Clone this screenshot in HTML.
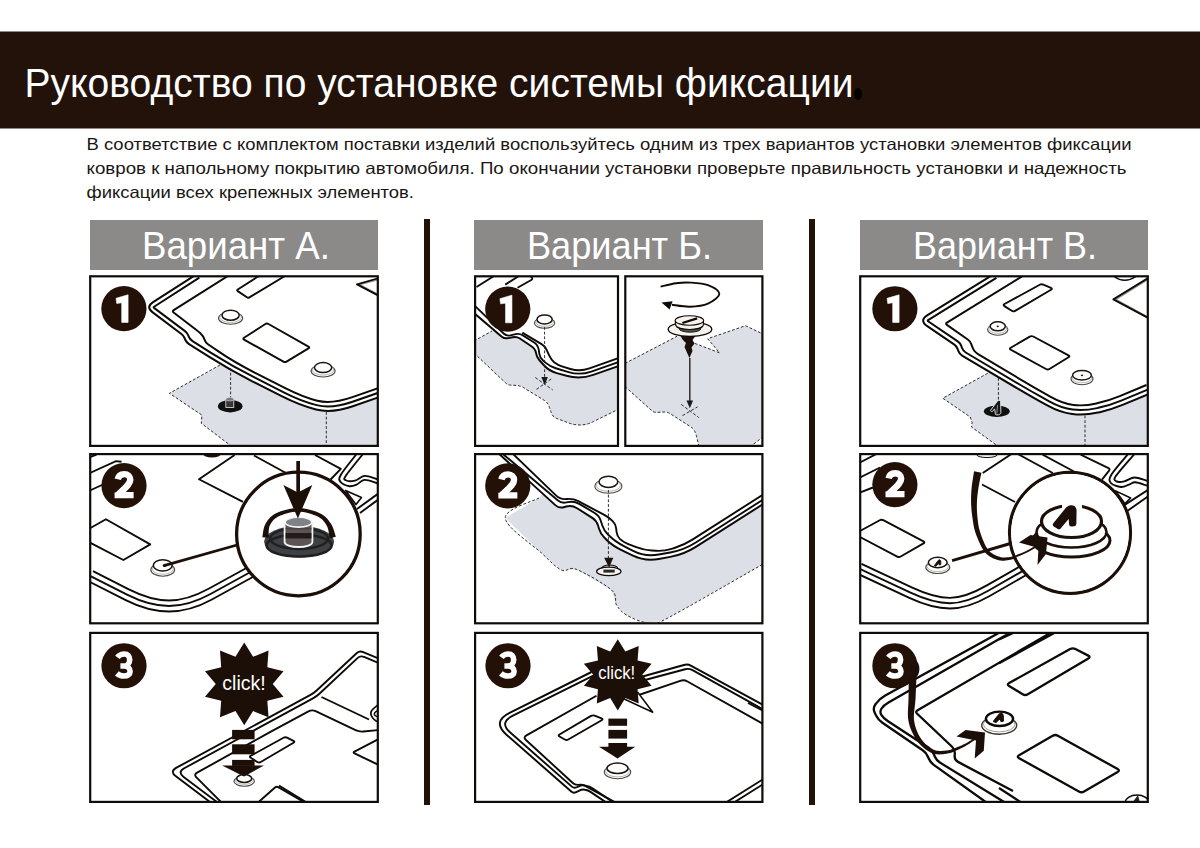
<!DOCTYPE html>
<html><head><meta charset="utf-8">
<style>
html,body{margin:0;padding:0;background:#fff;width:1200px;height:848px;overflow:hidden}
svg{position:absolute;left:0;top:0;display:block}
text{font-family:"Liberation Sans",sans-serif}
</style></head>
<body>
<svg width="1200" height="848" viewBox="0 0 1200 848">
<defs><clipPath id="cA1"><rect x="90.1" y="276.2" width="287.8" height="169.8"/></clipPath><clipPath id="cA2"><rect x="90.1" y="454" width="287.8" height="169.4"/></clipPath><clipPath id="cA3"><rect x="90.1" y="632.8" width="287.8" height="169.2"/></clipPath><clipPath id="cB1a"><rect x="475" y="276.2" width="143" height="169.8"/></clipPath><clipPath id="cB1b"><rect x="625.2" y="276.2" width="137.3" height="169.8"/></clipPath><clipPath id="cB2"><rect x="475" y="454" width="287.5" height="169.4"/></clipPath><clipPath id="cB3"><rect x="475" y="632.8" width="287.5" height="169.2"/></clipPath><clipPath id="cC1"><rect x="860.1" y="276.2" width="287.8" height="169.8"/></clipPath><clipPath id="cC2"><rect x="860.1" y="454" width="287.8" height="169.4"/></clipPath><clipPath id="cC3"><rect x="860.1" y="632.8" width="287.8" height="169.2"/></clipPath></defs>
<rect x="0" y="31.5" width="1200" height="97" fill="#22120a"/>
<text x="24.5" y="97" font-size="40.5" fill="#fff" textLength="829" lengthAdjust="spacingAndGlyphs">Руководство по установке системы фиксации</text>
<ellipse cx="858" cy="94" rx="4" ry="6" fill="#000"/>
<g font-size="16.5" fill="#1a1614">
<text x="86.5" y="150" textLength="1045" lengthAdjust="spacingAndGlyphs">В соответствие с комплектом поставки изделий воспользуйтесь одним из трех вариантов установки элементов фиксации</text>
<text x="86.5" y="174.4" textLength="1040" lengthAdjust="spacingAndGlyphs">ковров к напольному покрытию автомобиля. По окончании установки проверьте правильность установки и надежность</text>
<text x="86.5" y="198.1" textLength="327.5" lengthAdjust="spacingAndGlyphs">фиксации всех крепежных элементов.</text>
</g>
<rect x="424" y="219" width="6" height="586" fill="#211208"/>
<rect x="809" y="219" width="6" height="586" fill="#211208"/>
<g fill="#8b8a88">
<rect x="90" y="220" width="288" height="50"/>
<rect x="474" y="220" width="289" height="50"/>
<rect x="860" y="220" width="288" height="50"/>
</g>
<g font-size="38.5" fill="#fff">
<text x="142" y="258.5" textLength="188" lengthAdjust="spacingAndGlyphs">Вариант А.</text>
<text x="527" y="258.5" textLength="185" lengthAdjust="spacingAndGlyphs">Вариант Б.</text>
<text x="913" y="258.5" textLength="184" lengthAdjust="spacingAndGlyphs">Вариант В.</text>
</g>
<g clip-path="url(#cA1)"><path d="M220 365 L169.4 393.3 L201.9 415.1 L201.3 423.3 L232.5 447 L380 447 L380 380 L300 380Z" fill="#dcdfe6"/><path d="M197 274 L153.08 302.14 Q145.5 307 152.7 312.4 L181.1 333.7 Q183.5 335.5 184.68 338.26 L185.32 339.74 Q186.5 342.5 189.04 344.1 L208.87 356.64 Q230 370 252.3 381.31 L282.16 396.45 Q300 405.5 316 409.5 L316 409.5 Q332 413.5 352.78 406.29 L381 396.5 L381 270 L195 270Z" fill="#fff"/><path d="M220 365 L169.4 393.3 L201.9 415.1 L201.3 423.3 L232.5 447" fill="none" stroke="#222" stroke-width="0.95" stroke-dasharray="2.8 1.9"/><path d="M326.3 412 L326.3 447" fill="none" stroke="#222" stroke-width="0.95" stroke-dasharray="2.8 1.9"/><path d="M197 274 L153.08 302.14 Q145.5 307 152.7 312.4 L181.1 333.7 Q183.5 335.5 184.68 338.26 L185.32 339.74 Q186.5 342.5 189.04 344.1 L208.87 356.64 Q230 370 252.3 381.31 L282.16 396.45 Q300 405.5 316 409.5 L316 409.5 Q332 413.5 352.78 406.29 L381 396.5" fill="none" stroke="#0d0a08" stroke-width="2.03" /><path d="M199.37 277.7 L154.05 306.74 Q153.21 307.28 154.01 307.88 L184.68 330.89 Q187.08 332.69 188.26 335.44 L188.82 336.75 Q190.01 339.51 192.54 341.11 L211.09 352.84 Q232.18 366.17 254.47 377.48 L283.71 392.31 Q301.55 401.35 316.67 405.13 L316.67 405.13 Q331.8 408.91 352.58 401.7 L379.56 392.34" fill="none" stroke="#0d0a08" stroke-width="1.96" /><path d="M231 274 L173.69 310.18 Q172 311.25 173.59 312.46 L196.12 329.68 Q198.5 331.5 200.67 333.57 L201.03 333.93 Q203.2 336 204.2 338.83 L204.5 339.67 Q205.5 342.5 207.97 344.2 L219.93 352.42 Q234.35 362.34 256.65 373.65 L285.26 388.16 Q303.1 397.2 317.34 400.77 L317.34 400.77 Q331.59 404.33 352.38 397.12 L378.12 388.19" fill="none" stroke="#0d0a08" stroke-width="1.96" /><path d="M260.25 276 Q258.75 276 257.49 276.81 L237.76 289.49 Q236.5 290.3 237.74 291.14 L246.86 297.26 Q248.1 298.1 249.39 297.33 L283.71 276.77 Q285 276 283.5 276Z" fill="none" stroke="#0d0a08" stroke-width="1.89" /><path d="M244.07 339.63 Q242.5 338.75 244.02 337.78 L265.38 324.07 Q266.9 323.1 268.47 323.99 L308.43 346.61 Q310 347.5 308.46 348.43 L286.54 361.57 Q285 362.5 283.43 361.62Z" fill="none" stroke="#0d0a08" stroke-width="1.89" /><path d="M379 279.5 L359.8 284.6 L379 294.8" fill="none" stroke="#999" stroke-width="1.2" /><path d="M381 277.5 L357 284.4 L381 297" fill="none" stroke="#0d0a08" stroke-width="1.89" stroke-linejoin="round"/><ellipse cx="230.6" cy="318.3" rx="12.1" ry="6" fill="#fff" stroke="#4b4640" stroke-width="1.1"/><ellipse cx="230.6" cy="317.4" rx="10.8" ry="5" fill="#fff" stroke="#8c8780" stroke-width="0.6"/><ellipse cx="230.6" cy="315.2" rx="8.6" ry="5" fill="#fff" stroke="#1a1410" stroke-width="1.5"/><ellipse cx="323.1" cy="371" rx="12" ry="6" fill="#fff" stroke="#4b4640" stroke-width="1.1"/><ellipse cx="323.1" cy="370.1" rx="10.7" ry="5" fill="#fff" stroke="#8c8780" stroke-width="0.6"/><ellipse cx="323.1" cy="367.6" rx="8.6" ry="5" fill="#fff" stroke="#1a1410" stroke-width="1.5"/><path d="M230.6 368 L230.6 398" fill="none" stroke="#222" stroke-width="0.95" stroke-dasharray="2.8 1.9"/><ellipse cx="230.2" cy="406.2" rx="12.3" ry="6.2" fill="#101010" stroke="none" stroke-width="1"/><rect x="225.8" y="399" width="8" height="8.5" fill="#3a3634" stroke="#e8e8e8" stroke-width="0.8"/><ellipse cx="229.8" cy="399.2" rx="4" ry="1.8" fill="#77797c" stroke="#ddd" stroke-width="0.6"/></g>
<g clip-path="url(#cA2)"><path d="M90 473 L115.9 461.1 L121.5 461.75" fill="none" stroke="#0d0a08" stroke-width="1.89" /><path d="M90 490.5 L103 484.5" fill="none" stroke="#0d0a08" stroke-width="1.89" /><path d="M90 457 L96.5 454.5" fill="none" stroke="#0d0a08" stroke-width="1.89" /><path d="M90 528.3 L105.9 519.25 L150.25 544.4 L123.4 560 L90 542.6" fill="none" stroke="#0d0a08" stroke-width="1.89" stroke-linejoin="round"/><path d="M234.6 455 L199 479.25 L243 501.8" fill="none" stroke="#0d0a08" stroke-width="1.89" stroke-linejoin="round"/><path d="M315 455 L340.8 468.8 L330.6 479.5" fill="none" stroke="#0d0a08" stroke-width="1.89" stroke-linejoin="round"/><path d="M254 455.5 L286 473" fill="none" stroke="#0d0a08" stroke-width="1.89" /><ellipse cx="212" cy="454" rx="9" ry="3.5" fill="#1c0f08" stroke="none" stroke-width="1"/><path d="M357.4 453 C354.67 456.58 343.8 469.67 341 474.5 C338.2 479.33 339.18 480.05 340.6 482 C342.02 483.95 346.83 485.77 349.5 486.2 C352.17 486.63 354.1 485.65 356.6 484.6 C359.1 483.55 361.2 480.17 364.5 479.9 C367.8 479.63 373.65 482.15 376.4 483 C379.15 483.85 380.23 484.67 381 485" fill="none" stroke="#0d0a08" stroke-width="1.89" /><path d="M363.75 453 C360.79 456.75 348.99 470.97 346 475.5 C343.01 480.03 344.3 479.35 345.8 480.2 C347.3 481.05 351.88 481.32 355 480.6 C358.12 479.88 360.93 476.17 364.5 475.9 C368.07 475.63 373.65 478.15 376.4 479 C379.15 479.85 380.23 480.67 381 481" fill="none" stroke="#0d0a08" stroke-width="1.89" /><path d="M345.5 490.5 L361.5 497.4 L356 504.5Z" fill="none" stroke="#0d0a08" stroke-width="1.59" stroke-linejoin="round"/><path d="M379 493 L357 509" fill="none" stroke="#0d0a08" stroke-width="1.89" /><path d="M379 499 L360 513" fill="none" stroke="#0d0a08" stroke-width="1.89" /><path d="M88 581 L125.71 600.17 Q148 611.5 169 611.5 L169 611.5 Q190 611.5 211.92 599.48 L262 572" fill="none" stroke="#0d0a08" stroke-width="1.89" /><path d="M90.49 576.1 L127.03 594.67 Q149.32 606 168.95 606 L168.95 606 Q188.59 606 210.51 593.98 L259.35 567.18" fill="none" stroke="#0d0a08" stroke-width="1.89" /><path d="M92.98 571.19 L128.35 589.17 Q150.64 600.5 168.91 600.5 L168.91 600.5 Q187.18 600.5 209.1 588.48 L256.71 562.36" fill="none" stroke="#0d0a08" stroke-width="1.89" /><ellipse cx="162.75" cy="569.8" rx="11.9" ry="6.4" fill="#fff" stroke="#4b4640" stroke-width="1.1"/><ellipse cx="162.75" cy="568.9" rx="10.6" ry="5.4" fill="#fff" stroke="#8c8780" stroke-width="0.6"/><ellipse cx="162.75" cy="565.4" rx="9.4" ry="5.6" fill="#fff" stroke="#1a1410" stroke-width="1.5"/><path d="M164 565.6 L237 545" fill="none" stroke="#1c0f08" stroke-width="2.8" /><ellipse cx="164.5" cy="565.5" rx="1.8" ry="1.5" fill="#1c0f08" stroke="none" stroke-width="1"/><circle cx="298.4" cy="534" r="61.8" fill="#fff" stroke="#1c0f08" stroke-width="3.3"/><ellipse cx="299.1" cy="541.6" rx="35" ry="15.8" fill="#3e4043" stroke="none" stroke-width="1"/><ellipse cx="299.1" cy="545.5" rx="32.5" ry="11" fill="none" stroke="#1f2022" stroke-width="2.6"/><ellipse cx="299.1" cy="538.5" rx="29" ry="10.5" fill="none" stroke="#1f2022" stroke-width="2.4"/><path d="M268.73 537.84 L268.72 536.77 L268.69 535.37 L268.66 533.81 L268.67 532.14 L268.74 530.43 L268.91 528.78 L269.17 527.29 L269.58 525.98 L270.21 524.71 L270.93 523.4 L271.73 522.14 L272.64 520.93 L273.67 519.78 L274.87 518.68 L276.25 517.66 L277.86 516.7 L279.81 515.79 L282.08 514.88 L284.59 514.02 L287.25 513.24 L290 512.58 L292.75 512.06 L295.45 511.73 L298 511.6 L300.55 511.73 L303.23 512.06 L305.98 512.58 L308.72 513.24 L311.37 514.02 L313.88 514.88 L316.17 515.79 L318.15 516.7 L319.8 517.66 L321.21 518.7 L322.45 519.8 L323.54 520.97 L324.51 522.19 L325.4 523.48 L326.24 524.82 L327 526.13 L327.58 527.52 L328.06 529.07 L328.45 530.77 L328.78 532.52 L329.03 534.22 L329.23 535.8 L329.4 537.2 L329.54 538.28 L335.86 536.72 L335.51 535.83 L335.13 534.59 L334.69 533.01 L334.17 531.23 L333.57 529.34 L332.85 527.41 L332 525.54 L331 523.87 L330.02 522.38 L329 520.94 L327.88 519.52 L326.63 518.12 L325.22 516.78 L323.63 515.51 L321.84 514.34 L319.85 513.3 L317.63 512.31 L315.16 511.36 L312.49 510.46 L309.66 509.66 L306.74 508.98 L303.78 508.45 L300.85 508.11 L298 508 L295.15 508.11 L292.21 508.45 L289.24 508.98 L286.31 509.66 L283.48 510.46 L280.8 511.36 L278.34 512.31 L276.14 513.3 L274.18 514.35 L272.41 515.52 L270.86 516.8 L269.49 518.16 L268.28 519.57 L267.23 521.02 L266.29 522.49 L265.42 524.02 L264.58 525.77 L263.95 527.7 L263.48 529.68 L263.14 531.61 L262.89 533.42 L262.68 535.02 L262.48 536.27 L262.27 537.16Z" fill="#1c0f08"/><path d="M284.6 522 L284.6 542 A13.9 5 0 0 0 312.4 542 L312.4 522" fill="#5c5556" stroke="#f4f4f4" stroke-width="1.8"/><rect x="285.6" y="533" width="25.8" height="5.5" fill="#231a1b"/><rect x="285.6" y="528" width="25.8" height="1.5" fill="#4a4244"/><ellipse cx="298.5" cy="522.2" rx="13.4" ry="4.9" fill="#7e8186" stroke="#f4f4f4" stroke-width="1.6"/><rect x="296.3" y="461" width="3.7" height="32" fill="#1c0f08"/><path d="M283.4 484.9 L297.9 492.5 L312.3 484.9 L297.9 518.6Z" fill="#1c0f08"/></g>
<g clip-path="url(#cA3)"><path d="M214 805 L175.89 776.31 Q169.5 771.5 176.53 767.68 L310.49 694.91 Q314 693 316.92 690.27 L356.58 653.23 Q359.5 650.5 363.19 652.04 L381 659.5" fill="none" stroke="#0d0a08" stroke-width="1.89" /><path d="M216.53 801.64 L183.64 776.88 Q177.24 772.07 184.27 768.25 L312.96 698.34 Q316.48 696.43 319.4 693.7 L357.46 658.15 Q360.38 655.42 364.07 656.97 L379.38 663.37" fill="none" stroke="#0d0a08" stroke-width="1.89" /><path d="M224 805 L196.43 777.43 Q193.6 774.6 197.1 772.66 L265.01 734.91 Q270.25 732 275.53 729.15 L308.48 711.4 Q312 709.5 315.61 711.21 L355.59 730.19 Q359.2 731.9 363.18 731.52 L381 729.8" fill="none" stroke="#0d0a08" stroke-width="1.89" /><path d="M321.5 697 L369 719.5" fill="none" stroke="#0d0a08" stroke-width="1.89" /><path d="M379 704 C377.75 705.17 372.75 709 371.5 711 C370.25 713 370.75 714.33 371.5 716 C372.25 717.67 374.42 720.17 376 721 C377.58 721.83 380.17 721 381 721" fill="none" stroke="#0d0a08" stroke-width="1.74" /><path d="M381 708 C380 708.75 376 711.25 375 712.5 C374 713.75 374 714.58 375 715.5 C376 716.42 380 717.58 381 718" fill="none" stroke="#0d0a08" stroke-width="1.45" /><path d="M250.7 757.81 Q249 756.75 250.75 755.78 L283.5 737.72 Q285.25 736.75 287.04 737.64 L293.46 740.86 Q295.25 741.75 293.52 742.76 L260.73 761.99 Q259 763 257.3 761.94Z" fill="none" stroke="#0d0a08" stroke-width="1.89" /><path d="M255.25 805 L275.01 787.43 Q276.5 786.1 278.23 787.11 L309 805" fill="none" stroke="#0d0a08" stroke-width="1.89" /><path d="M381 737.8 L354.47 751.58 Q352.7 752.5 354.5 753.37 L381 766.1" fill="none" stroke="#0d0a08" stroke-width="1.89" /><path d="M279 785.5 L309 804" fill="none" stroke="#0d0a08" stroke-width="1.89" /><path d="M244.25 642.6 L253.06 656.79 L268.53 650.49 L267.31 667.15 L283.53 671.14 L272.75 683.9 L283.53 696.66 L267.31 700.65 L268.53 717.31 L253.06 711.01 L244.25 725.2 L235.44 711.01 L219.97 717.31 L221.19 700.65 L204.97 696.66 L215.75 683.9 L204.97 671.14 L221.19 667.15 L219.97 650.49 L235.44 656.79Z" fill="#1c0f08"/><text x="222.3" y="689.6" font-size="21" fill="#fff" textLength="43.5" lengthAdjust="spacingAndGlyphs">click!</text><rect x="232.1" y="729.9" width="22.5" height="9.4" fill="#1c0f08"/><rect x="232.1" y="744.3" width="22.5" height="10" fill="#1c0f08"/><rect x="232.1" y="759.9" width="22.5" height="6" fill="#1c0f08"/><ellipse cx="244.2" cy="781.2" rx="10.2" ry="5" fill="#fff" stroke="#4b4640" stroke-width="1.1"/><ellipse cx="244.2" cy="780.3" rx="8.9" ry="4" fill="#fff" stroke="#8c8780" stroke-width="0.6"/><ellipse cx="244.2" cy="778.5" rx="7.5" ry="3.9" fill="#fff" stroke="#1a1410" stroke-width="1.5"/><path d="M222.1 765.5 L264 765.5 L244 776.5Z" fill="#1c0f08"/></g>
<g clip-path="url(#cB1a)"><path d="M476 340 L492 331 L530 310 L620 310 L620 408.5 L586.5 425 L574 425 L553 417 L550.25 410 L547.75 402.5 L520.25 385.6 L507.75 385 L474 353Z" fill="#dcdfe6"/><path d="M474 313 L501.46 336.41 Q504.5 339 508.4 338.13 L512.7 337.17 Q516.6 336.3 519.92 338.53 L531.35 346.21 Q535.5 349 536.05 353 L536.06 353.04 Q536.6 357 539.25 359.99 L543.7 365.01 Q549 371 556.72 373.12 L566.5 375.8 Q580 379.5 593.21 374.88 L620 365.5 L620 270 L474 270Z" fill="#fff"/><path d="M474 341 L492 331" fill="none" stroke="#222" stroke-width="0.95" stroke-dasharray="2.8 1.9"/><path d="M474 353 L505.57 382.94 Q507.75 385 510.75 385.14 L516.25 385.41 Q520.25 385.6 523.66 387.69 L544.34 400.41 Q547.75 402.5 549 406.25 L549.3 407.15 Q550.25 410 551.35 412.79 L551.62 413.5 Q553 417 556.74 418.42 L568.39 422.86 Q574 425 580 425 L580.25 425 Q586.5 425 593.68 421.47 L620 408.5" fill="none" stroke="#222" stroke-width="0.95" stroke-dasharray="2.8 1.9"/><path d="M474 313 L501.46 336.41 Q504.5 339 508.4 338.13 L512.7 337.17 Q516.6 336.3 519.92 338.53 L531.35 346.21 Q535.5 349 536.05 353 L536.06 353.04 Q536.6 357 539.25 359.99 L543.7 365.01 Q549 371 556.72 373.12 L566.5 375.8 Q580 379.5 593.21 374.88 L620 365.5" fill="none" stroke="#0d0a08" stroke-width="1.96" /><path d="M474 305 L503.62 333.53 Q506.5 336.3 510.39 335.37 L515.61 334.13 Q519.5 333.2 522.87 335.35 L533.78 342.31 Q538 345 538.76 349.94 L539.39 354.05 Q540 358 543.05 360.59 L545.43 362.61 Q550 366.5 555.75 368.22 L568.51 372.05 Q580 375.5 591.33 371.54 L620 361.5" fill="none" stroke="#0d0a08" stroke-width="1.89" /><path d="M522.3 332.6 L541.57 344.14 Q545 346.2 546.64 349.85 L549.15 355.44 Q551.2 360 554.6 362.65 L554.85 362.84 Q558 365.3 561.84 366.43 L570.41 368.97 Q580 371.8 589.42 368.43 L620 357.5" fill="none" stroke="#0d0a08" stroke-width="1.89" /><path d="M476.5 287 L494 276" fill="none" stroke="#0d0a08" stroke-width="1.89" /><path d="M505.25 284.6 L519 276" fill="none" stroke="#0d0a08" stroke-width="1.89" /><path d="M517.5 287.7 L531.26 279.98 Q533 279 531.7 277.48 L530 275.5" fill="none" stroke="#0d0a08" stroke-width="1.89" /><ellipse cx="544.6" cy="323" rx="10.2" ry="5.2" fill="#fff" stroke="#4b4640" stroke-width="1.1"/><ellipse cx="544.6" cy="322.1" rx="8.9" ry="4.2" fill="#fff" stroke="#8c8780" stroke-width="0.6"/><ellipse cx="544.6" cy="319.4" rx="7.6" ry="4.5" fill="#fff" stroke="#1a1410" stroke-width="1.5"/><path d="M544.6 327 L544.6 379" fill="none" stroke="#222" stroke-width="0.95" stroke-dasharray="2.8 1.9"/><path d="M541.3 377 L547.9 377 L544.6 385Z" fill="#1a1a1a"/><path d="M535.25 377.5 L552.75 390" fill="none" stroke="#222" stroke-width="0.95" stroke-dasharray="3 2"/><path d="M536.5 389.4 L551.5 378.75" fill="none" stroke="#222" stroke-width="0.95" stroke-dasharray="3 2"/></g>
<g clip-path="url(#cB1b)"><path d="M625 363.4 L677 336.3 L690 336 L694.8 343.4 L719.5 352.8 L707.7 338.7 L745.5 325.7 L764 334.5 L764 436 L750 447 L699 447 L696.25 435 L693.75 428.75 L667.5 411.9 L653.75 412.5 L625 386.5Z" fill="#dcdfe6"/><path d="M625 363.4 L677 336.3" fill="none" stroke="#222" stroke-width="0.95" stroke-dasharray="2.8 1.9"/><path d="M694.8 343.4 L719.5 352.8 L707.7 338.7 L745.5 325.7 L764 334.5" fill="none" stroke="#222" stroke-width="0.95" stroke-dasharray="2.8 1.9"/><path d="M625 386.5 L651.52 410.49 Q653.75 412.5 656.75 412.37 L664.5 412.03 Q667.5 411.9 670.02 413.52 L690.38 426.59 Q693.75 428.75 695 431.88 L695.14 432.21 Q696.25 435 696.92 437.92 L699 447" fill="none" stroke="#222" stroke-width="0.95" stroke-dasharray="2.8 1.9"/><path d="M750 447 L764 436" fill="none" stroke="#222" stroke-width="0.95" stroke-dasharray="2.8 1.9"/><path d="M660.6 286.6 C663.17 286.03 670.93 283.87 676 283.2 C681.07 282.53 685.67 282.27 691 282.6 C696.33 282.93 703.28 283.33 708 285.2 C712.72 287.07 719.3 290.73 719.3 293.8 C719.3 296.87 712.88 301.45 708 303.6 C703.12 305.75 696 306.5 690 306.7 C684 306.9 675 305.12 672 304.8" fill="none" stroke="#0d0a08" stroke-width="1.89" /><path d="M661.5 302.6 L672.6 301.2 L669.6 309.6Z" fill="#0d0a08"/><path d="M680.6 336 L695.5 336 L692.5 340 L694.5 343.5 L691.5 347.5 L692.5 351 L689.4 358 L686.5 351.5 L684.5 347 L686 343 L682.5 339.5Z" fill="#1c0f08"/><ellipse cx="690" cy="329.3" rx="21.8" ry="7.2" fill="#f7f3ec" stroke="#0d0a08" stroke-width="1.3"/><ellipse cx="690" cy="328.8" rx="10.8" ry="3.4" fill="#4e5356" stroke="#111" stroke-width="0.9"/><path d="M675.2 320.5 L675.8 325.5 A13.8 4.5 0 0 0 703.2 325.5 L703.6 320.5" fill="#f7f3ec" stroke="#0d0a08" stroke-width="1.1"/><ellipse cx="689.4" cy="320.5" rx="14.2" ry="4.8" fill="#f7f3ec" stroke="#0d0a08" stroke-width="1.1"/><path d="M682.4 323 L697.1 318.4" fill="none" stroke="#0d0a08" stroke-width="2.32" /><path d="M689.8 358 L689.8 403" fill="none" stroke="#3a3a3a" stroke-width="1.6" /><path d="M686.5 400.5 L693.1 400.5 L689.8 408.3Z" fill="#1a1a1a"/><path d="M681.25 404.4 L698.75 417.5" fill="none" stroke="#222" stroke-width="0.95" stroke-dasharray="3 2"/><path d="M682.5 415.6 L697.5 406.9" fill="none" stroke="#222" stroke-width="0.95" stroke-dasharray="3 2"/></g>
<g clip-path="url(#cB2)"><path d="M539 498 L505.25 518 L541.5 553 L561.5 570 L576.5 569.4 L611.5 590 L616.5 605 L626.5 615 L645.25 622.5 L661.5 621.25 L764 563.5 L764 470 L560 470Z" fill="#dcdfe6"/><path d="M497 452 L555.3 505.13 Q559 508.5 563.83 507.2 L566.21 506.56 Q572 505 577.07 508.21 L592.27 517.83 Q596.5 520.5 597.97 525.28 L599.03 528.72 Q600.5 533.5 603.96 537.11 L606.25 539.5 Q612 545.5 621 549.86 L632.4 555.39 Q645 561.5 658.77 558.99 L670.23 556.91 Q684 554.4 695.81 546.88 L764 503.5 L764 452 Z" fill="#fff"/><path d="M539 498 C533.38 501.33 504.83 508.83 505.25 518 C505.67 527.17 532.12 544.33 541.5 553 C550.88 561.67 555.67 567.27 561.5 570 C567.33 572.73 568.17 566.07 576.5 569.4 C584.83 572.73 604.83 584.07 611.5 590 C618.17 595.93 614 600.83 616.5 605 C619 609.17 621.71 612.08 626.5 615 C631.29 617.92 639.42 621.46 645.25 622.5 C651.08 623.54 641.71 631.08 661.5 621.25 C681.29 611.42 746.92 573.12 764 563.5" fill="none" stroke="#222" stroke-width="0.95" stroke-dasharray="2.8 1.9"/><path d="M497 452 L555.3 505.13 Q559 508.5 563.83 507.2 L566.21 506.56 Q572 505 577.07 508.21 L592.27 517.83 Q596.5 520.5 597.97 525.28 L599.03 528.72 Q600.5 533.5 603.96 537.11 L606.25 539.5 Q612 545.5 621 549.86 L632.4 555.39 Q645 561.5 658.77 558.99 L670.23 556.91 Q684 554.4 695.81 546.88 L764 503.5" fill="none" stroke="#0d0a08" stroke-width="1.96" /><path d="M500.5 452 L557.68 500.27 Q561.5 503.5 566.39 502.44 L568.14 502.07 Q574 500.8 579.17 503.84 L594.69 512.97 Q599 515.5 600.58 520.24 L602.42 525.76 Q604 530.5 607.54 534.04 L609.5 536 Q615 541.5 623.88 546.09 L632.56 550.57 Q645 557 658.78 554.53 L670.22 552.47 Q684 550 695.81 542.47 L764 499" fill="none" stroke="#0d0a08" stroke-width="1.89" /><path d="M511 452 L555.94 495.43 Q560.25 499.6 566.22 499.04 L567.03 498.96 Q573 498.4 578.31 501.2 L604.28 514.87 Q608.7 517.2 612.1 520.6 L612.67 521.17 Q615.5 524 616.05 527.96 L616.65 532.34 Q617.2 536.3 620.05 539.1 L620.1 539.15 Q623 542 627.66 543.82 L636.25 547.18 Q643.7 550.1 651.69 550.55 L656.01 550.8 Q664 551.25 671.64 548.86 L674.46 547.98 Q684 545 692.43 539.62 L764 494" fill="none" stroke="#0d0a08" stroke-width="1.89" /><ellipse cx="608.4" cy="486.2" rx="13.5" ry="7" fill="#fff" stroke="#4b4640" stroke-width="1.1"/><ellipse cx="608.4" cy="485.3" rx="12.2" ry="6" fill="#fff" stroke="#8c8780" stroke-width="0.6"/><ellipse cx="608.4" cy="481.8" rx="9.4" ry="5.6" fill="#fff" stroke="#1a1410" stroke-width="1.5"/><path d="M608.4 490 L608.4 559" fill="none" stroke="#222" stroke-width="0.95" stroke-dasharray="2.8 1.9"/><ellipse cx="608.8" cy="571.4" rx="12.2" ry="4.2" fill="#f7f3ec" stroke="#0d0a08" stroke-width="1.2"/><path d="M601.6 568.2 A8 3.2 0 0 1 617.6 568.2" fill="none" stroke="#0d0a08" stroke-width="1.1"/><rect x="603.4" y="569.6" width="11.3" height="3" fill="#2a2a2a"/><path d="M604.1 557.8 L613.3 557.8 L609.1 567.5Z" fill="#1e120c"/></g>
<g clip-path="url(#cB3)"><path d="M591.5 672 L509.6 712.78 Q491.7 721.7 506.73 734.89 L571.25 791.52 Q573.5 793.5 576.18 792.15 L579.32 790.55 Q582 789.2 584.96 789.69 L585.04 789.71 Q588 790.2 590.49 791.87 L610 805" fill="none" stroke="#0d0a08" stroke-width="1.96" /><path d="M593.33 675.67 L512.42 715.96 Q498.99 722.65 510.27 732.54 L571.87 786.61 Q574.12 788.59 576.8 787.24 L578.67 786.29 Q581.35 784.93 584.31 785.43 L586.59 785.81 Q589.55 786.3 592.04 787.98 L612.29 801.6" fill="none" stroke="#0d0a08" stroke-width="1.89" /><path d="M596.5 695.75 L526.48 735.33 Q523 737.3 525.95 740 L572.79 782.97 Q575 785 578 784.85 L580 784.75 Q583 784.6 585.63 786.05 L620 805" fill="none" stroke="#0d0a08" stroke-width="1.89" /><path d="M630 680 L683.9 664.97 Q687.75 663.9 691.26 665.81 L765 706" fill="none" stroke="#0d0a08" stroke-width="1.96" /><path d="M630 684 L685.14 669.28 Q689 668.25 692.5 670.19 L765 710.5" fill="none" stroke="#0d0a08" stroke-width="1.89" /><path d="M630 698 L680.22 680.8 Q684 679.5 687.49 681.46 L765 725" fill="none" stroke="#0d0a08" stroke-width="1.89" /><path d="M559.49 736.49 Q557.75 735.5 559.47 734.49 L591.03 715.91 Q592.75 714.9 594.6 715.66 L601.55 718.49 Q603.4 719.25 601.67 720.25 L568.23 739.5 Q566.5 740.5 564.76 739.51Z" fill="none" stroke="#0d0a08" stroke-width="1.89" /><path d="M722 805 L765 778" fill="none" stroke="#0d0a08" stroke-width="1.89" /><path d="M730 805 L765 783" fill="none" stroke="#0d0a08" stroke-width="1.89" /><path d="M748 703 L765 712" fill="none" stroke="#0d0a08" stroke-width="1.59" /><path d="M622 698 L652.75 712.3 L637.5 692" fill="#fff" stroke="#0d0a08" stroke-width="1.5" stroke-linejoin="round"/><path d="M617.75 639.2 L625.32 651.5 L638.68 646 L637.57 660.4 L651.61 663.8 L642.25 674.8 L651.61 685.8 L637.57 689.2 L638.68 703.6 L625.32 698.1 L617.75 710.4 L610.18 698.1 L596.82 703.6 L597.93 689.2 L583.89 685.8 L593.25 674.8 L583.89 663.8 L597.93 660.4 L596.82 646 L610.18 651.5Z" fill="#1c0f08"/><text x="598.2" y="679.4" font-size="18" fill="#fff" textLength="37" lengthAdjust="spacingAndGlyphs">click!</text><rect x="608.4" y="718.6" width="18.7" height="7.2" fill="#1c0f08"/><rect x="608.4" y="729.9" width="18.7" height="8.7" fill="#1c0f08"/><rect x="608.4" y="743" width="18.7" height="4.5" fill="#1c0f08"/><path d="M599 746.75 L635.25 746.75 L617.5 758.5Z" fill="#1c0f08"/><ellipse cx="617.5" cy="772" rx="13.2" ry="6.8" fill="#fff" stroke="#4b4640" stroke-width="1.1"/><ellipse cx="617.5" cy="771.1" rx="11.9" ry="5.8" fill="#fff" stroke="#8c8780" stroke-width="0.6"/><ellipse cx="617.5" cy="768.3" rx="10.5" ry="5.2" fill="#fff" stroke="#1a1410" stroke-width="1.5"/></g>
<g clip-path="url(#cC1)"><path d="M987.75 373.25 L942.75 398.25 L970.25 417 L972.1 422.6 L971.5 427 L999 447 L1150 447 L1150 380 L1000 370Z" fill="#dcdfe6"/><path d="M994 274 L927.5 315.23 Q919 320.5 927.27 326.12 L954.02 344.31 Q956.5 346 957.55 348.81 L958.45 351.19 Q959.5 354 962.08 355.53 L1018.68 389.17 Q1029 395.3 1039.49 401.12 L1047.76 405.71 Q1060 412.5 1072.2 414.05 L1072.2 414.05 Q1084.4 415.6 1097.95 412.55 L1099.79 412.14 Q1111.5 409.5 1122.58 404.89 L1150 393.5 L1150 270 L994 270Z" fill="#fff"/><path d="M987.75 373.25 L942.75 398.25 L970.25 417 L972.1 422.6 L971.5 427 L999 447" fill="none" stroke="#222" stroke-width="0.95" stroke-dasharray="2.8 1.9"/><path d="M1085 415.5 L1085 447" fill="none" stroke="#222" stroke-width="0.95" stroke-dasharray="2.8 1.9"/><path d="M994 274 L927.5 315.23 Q919 320.5 927.27 326.12 L954.02 344.31 Q956.5 346 957.55 348.81 L958.45 351.19 Q959.5 354 962.08 355.53 L1018.68 389.17 Q1029 395.3 1039.49 401.12 L1047.76 405.71 Q1060 412.5 1072.2 414.05 L1072.2 414.05 Q1084.4 415.6 1097.95 412.55 L1099.79 412.14 Q1111.5 409.5 1122.58 404.89 L1150 393.5" fill="none" stroke="#0d0a08" stroke-width="2.03" /><path d="M996.37 277.82 L928.11 320.15 Q927.26 320.67 928.09 321.24 L957.73 341.4 Q960.21 343.08 961.27 345.89 L962.1 348.13 Q963.16 350.94 965.74 352.47 L1020.93 385.27 Q1031.24 391.4 1041.73 397.22 L1049.18 401.35 Q1061.43 408.15 1072.8 409.59 L1072.8 409.59 Q1084.18 411.04 1097.16 408.12 L1098.43 407.83 Q1110.13 405.2 1121.21 400.59 L1148.27 389.34" fill="none" stroke="#0d0a08" stroke-width="1.96" /><path d="M1026 274 L946.95 322.7 Q945.25 323.75 946.89 324.9 L967.79 339.53 Q970.25 341.25 971.25 344.08 L972 346.17 Q973 349 974.25 350.75 L974.25 350.75 Q975.5 352.5 978.07 354.04 L1023.29 381.15 Q1033.58 387.32 1044.08 393.14 L1050.67 396.8 Q1062.92 403.6 1073.44 404.93 L1073.44 404.93 Q1083.96 406.27 1096.33 403.48 L1097 403.33 Q1108.7 400.7 1119.78 396.09 L1146.47 385" fill="none" stroke="#0d0a08" stroke-width="1.96" /><path d="M1004.43 306.09 Q1002.75 305 1004.5 304.04 L1039.75 284.71 Q1041.5 283.75 1043.33 284.56 L1050.92 287.94 Q1052.75 288.75 1051.03 289.76 L1015.12 310.89 Q1013.4 311.9 1011.72 310.81Z" fill="none" stroke="#0d0a08" stroke-width="1.89" /><path d="M1010.75 349.71 Q1009 348.75 1010.73 347.74 L1029.77 336.61 Q1031.5 335.6 1033.27 336.54 L1068.48 355.31 Q1070.25 356.25 1068.54 357.29 L1049.46 368.96 Q1047.75 370 1046 369.04Z" fill="none" stroke="#0d0a08" stroke-width="1.89" /><path d="M1148 279.5 L1116.2 299.4 L1148 317" fill="none" stroke="#999" stroke-width="1.2" /><path d="M1150 277 L1113.4 299.4 L1150 319" fill="none" stroke="#0d0a08" stroke-width="1.89" stroke-linejoin="round"/><path d="M1114 276.5 Q1124.5 284 1136 276.5" fill="none" stroke="#0d0a08" stroke-width="1.3"/><ellipse cx="997.75" cy="329.6" rx="10.2" ry="5.6" fill="#fff" stroke="#4b4640" stroke-width="1.1"/><ellipse cx="997.75" cy="328.7" rx="8.9" ry="4.6" fill="#fff" stroke="#8c8780" stroke-width="0.6"/><ellipse cx="997.75" cy="326.3" rx="7.6" ry="4.5" fill="#fff" stroke="#1a1410" stroke-width="1.5"/><ellipse cx="997.75" cy="326.3" rx="1.2" ry="0.9" fill="#222" stroke="none" stroke-width="1"/><ellipse cx="1082" cy="378.8" rx="11" ry="5.9" fill="#fff" stroke="#4b4640" stroke-width="1.1"/><ellipse cx="1082" cy="377.9" rx="9.7" ry="4.9" fill="#fff" stroke="#8c8780" stroke-width="0.6"/><ellipse cx="1082" cy="375.3" rx="9.4" ry="4.8" fill="#fff" stroke="#1a1410" stroke-width="1.5"/><ellipse cx="1082" cy="375.3" rx="1.2" ry="0.9" fill="#222" stroke="none" stroke-width="1"/><path d="M998.4 378 L998.4 400" fill="none" stroke="#222" stroke-width="0.95" stroke-dasharray="2.8 1.9"/><ellipse cx="996.8" cy="411.3" rx="12.9" ry="5.7" fill="#101010" stroke="none" stroke-width="1"/><path d="M990.92 411.14 Q990.2 410.8 990.68 410.16 L997.32 401.24 Q997.8 400.6 998.6 400.51 L999.8 400.39 Q1000.6 400.3 1000.62 401.1 L1000.88 412.7 Q1000.9 413.5 1000.24 413.95 L999.66 414.35 Q999 414.8 998.2 414.8 L996.3 414.8 Q995.5 414.8 995.39 414.01 L994.71 409.39 Q994.6 408.6 994.13 409.25 L992.77 411.15 Q992.3 411.8 991.58 411.46Z" fill="#161616" stroke="#eeeeee" stroke-width="0.9" /><path d="M996.8 413.5 L997.6 405" fill="none" stroke="#bbb" stroke-width="0.7"/></g>
<g clip-path="url(#cC2)"><path d="M859 463 L876.5 454" fill="none" stroke="#0d0a08" stroke-width="1.89" /><path d="M859 478 L880 467.5" fill="none" stroke="#0d0a08" stroke-width="1.89" /><path d="M859 493 L873 487.5" fill="none" stroke="#0d0a08" stroke-width="1.89" /><path d="M859 531.5 L879.74 520.21 Q881.5 519.25 883.27 520.19 L923.48 541.46 Q925.25 542.4 923.52 543.4 L900.73 556.5 Q899 557.5 897.23 556.57 L859 536.5" fill="none" stroke="#0d0a08" stroke-width="1.89" /><path d="M1011.5 454 L982.75 473" fill="none" stroke="#0d0a08" stroke-width="1.89" /><path d="M982 484.5 L1015 502" fill="none" stroke="#0d0a08" stroke-width="1.89" /><path d="M1017.75 454 L1052.75 473" fill="none" stroke="#0d0a08" stroke-width="1.89" /><path d="M1080.7 454.7 L1108.5 468.13 Q1110.3 469 1109.07 470.58 L1102 479.7" fill="none" stroke="#0d0a08" stroke-width="1.89" /><path d="M1042.7 454.7 L1074 471.5" fill="none" stroke="#0d0a08" stroke-width="1.89" /><ellipse cx="987" cy="455" rx="10" ry="2.5" fill="none" stroke="#0d0a08" stroke-width="1"/><path d="M1129 453 C1126.08 456.58 1114.53 469.5 1111.5 474.5 C1108.47 479.5 1109.2 480.92 1110.8 483 C1112.4 485.08 1118.07 486.73 1121.1 487 C1124.13 487.27 1126.63 485.4 1129 484.6 C1131.37 483.8 1132.4 482.07 1135.3 482.2 C1138.2 482.33 1143.78 484.6 1146.4 485.4 C1149.02 486.2 1150.23 486.73 1151 487" fill="none" stroke="#0d0a08" stroke-width="1.89" /><path d="M1135.3 453 C1132.08 456.8 1119.13 471.07 1116 475.8 C1112.87 480.53 1115.12 480.47 1116.5 481.4 C1117.88 482.33 1121.3 482.05 1124.3 481.4 C1127.3 480.75 1130.82 477.63 1134.5 477.5 C1138.18 477.37 1143.65 479.85 1146.4 480.6 C1149.15 481.35 1150.23 481.77 1151 482" fill="none" stroke="#0d0a08" stroke-width="1.89" /><path d="M1115.6 490.9 L1130.6 498 L1125 503.6Z" fill="none" stroke="#0d0a08" stroke-width="1.59" stroke-linejoin="round"/><path d="M1150 488.5 L1124.3 505.1" fill="none" stroke="#0d0a08" stroke-width="1.89" /><path d="M1150 495 L1126.6 511.5" fill="none" stroke="#0d0a08" stroke-width="1.89" /><path d="M857 573.5 L909.35 597.93 Q932 608.5 950 608.5 L950 608.5 Q968 608.5 989.68 596.04 L1035 570" fill="none" stroke="#0d0a08" stroke-width="1.89" /><path d="M859.24 568.7 L910.52 592.63 Q933.18 603.2 949.88 603.2 L949.88 603.2 Q966.59 603.2 988.26 590.74 L1032.36 565.4" fill="none" stroke="#0d0a08" stroke-width="1.89" /><path d="M861.48 563.89 L911.7 587.33 Q934.35 597.9 949.76 597.9 L949.76 597.9 Q965.17 597.9 986.85 585.44 L1029.72 560.81" fill="none" stroke="#0d0a08" stroke-width="1.89" /><ellipse cx="937.75" cy="567.3" rx="12" ry="6.2" fill="#fff" stroke="#4b4640" stroke-width="1.1"/><ellipse cx="937.75" cy="566.4" rx="10.7" ry="5.2" fill="#fff" stroke="#8c8780" stroke-width="0.6"/><ellipse cx="937.75" cy="562.5" rx="9.4" ry="5.2" fill="#fff" stroke="#1a1410" stroke-width="1.5"/><path d="M934.68 565.93 Q934.2 565.8 934.5 565.4 L938.2 560.4 Q938.5 560 939 559.94 L939.7 559.86 Q940.2 559.8 940.42 560.25 L940.58 560.55 Q940.8 561 940.8 561.5 L940.8 564.3 Q940.8 564.8 940.3 564.86 L939.5 564.94 Q939 565 938.95 564.5 L938.85 563.3 Q938.8 562.8 938.49 563.19 L936.31 565.91 Q936 566.3 935.52 566.17Z" fill="#1c0f08" stroke="#1c0f08" stroke-width="0.9" /><path d="M974.01 471.32 L973.84 472.56 L973.58 474.21 L973.26 476.2 L972.9 478.42 L972.53 480.76 L972.17 483.13 L971.87 485.44 L971.63 487.58 L971.46 489.56 L971.32 491.5 L971.21 493.43 L971.12 495.35 L971.07 497.26 L971.05 499.16 L971.06 501.08 L971.1 503 L971.17 504.92 L971.26 506.84 L971.39 508.76 L971.56 510.68 L971.75 512.6 L971.98 514.51 L972.23 516.42 L972.52 518.32 L972.79 520.17 L973.05 522.01 L973.34 523.86 L973.67 525.73 L974.06 527.64 L974.54 529.61 L975.12 531.65 L975.82 533.74 L976.64 535.95 L977.57 538.33 L978.58 540.82 L979.69 543.34 L980.88 545.82 L982.15 548.18 L983.51 550.36 L984.95 552.26 L986.49 553.89 L988.12 555.3 L989.82 556.5 L991.57 557.52 L993.33 558.38 L995.1 559.09 L996.85 559.67 L998.57 560.15 L1000.33 560.49 L1002.12 560.66 L1003.89 560.68 L1005.64 560.58 L1007.36 560.37 L1009.05 560.08 L1010.7 559.74 L1012.32 559.36 L1013.92 558.91 L1015.49 558.36 L1017.02 557.73 L1018.51 557.05 L1019.99 556.31 L1021.47 555.55 L1022.96 554.77 L1024.49 553.99 L1026.16 553.14 L1027.99 552.18 L1029.88 551.15 L1031.76 550.11 L1033.54 549.11 L1035.14 548.2 L1036.48 547.44 L1037.48 546.88 L1036.52 545.12 L1035.5 545.67 L1034.14 546.41 L1032.53 547.29 L1030.74 548.27 L1028.87 549.28 L1026.98 550.28 L1025.17 551.2 L1023.51 552.01 L1021.96 552.73 L1020.44 553.44 L1018.95 554.13 L1017.49 554.77 L1016.04 555.35 L1014.6 555.86 L1013.16 556.3 L1011.68 556.64 L1010.14 556.92 L1008.57 557.17 L1006.99 557.37 L1005.42 557.48 L1003.88 557.51 L1002.36 557.42 L1000.88 557.21 L999.43 556.85 L997.93 556.37 L996.39 555.78 L994.87 555.09 L993.37 554.29 L991.92 553.37 L990.55 552.31 L989.25 551.1 L988.05 549.74 L986.91 548.11 L985.78 546.15 L984.67 543.96 L983.62 541.6 L982.63 539.17 L981.72 536.74 L980.9 534.41 L980.18 532.26 L979.58 530.32 L979.1 528.46 L978.71 526.67 L978.39 524.89 L978.13 523.13 L977.91 521.35 L977.7 519.53 L977.48 517.68 L977.3 515.83 L977.15 513.99 L977.03 512.15 L976.94 510.32 L976.89 508.49 L976.86 506.66 L976.87 504.83 L976.9 503 L976.98 501.19 L977.09 499.38 L977.23 497.58 L977.41 495.78 L977.61 493.97 L977.84 492.14 L978.1 490.29 L978.37 488.42 L978.69 486.44 L979.08 484.26 L979.52 481.98 L979.98 479.71 L980.43 477.54 L980.85 475.58 L981.21 473.92 L981.49 472.68Z" fill="#1c0f08"/><path d="M952.1 560.6 L1009.5 543.8" fill="none" stroke="#1c0f08" stroke-width="3" /><circle cx="1070" cy="532.8" r="60.5" fill="none" stroke="#1c0f08" stroke-width="3.2"/><clipPath id="magC"><circle cx="1070" cy="532.8" r="59"/></clipPath><g clip-path="url(#magC)"><circle cx="1070" cy="532.8" r="59" fill="#fff"/><path d="M1001 559 C1015 558 1028 552 1038 545" fill="none" stroke="#1c0f08" stroke-width="2" /><path d="M1000 546.5 L1011 543.3" fill="none" stroke="#1c0f08" stroke-width="3" /><ellipse cx="1071.5" cy="540.5" rx="38.5" ry="16.5" fill="#fff" stroke="#1c0f08" stroke-width="3"/><ellipse cx="1071.5" cy="532" rx="35" ry="15.5" fill="#fff" stroke="#1c0f08" stroke-width="2.6"/><ellipse cx="1071.5" cy="521.5" rx="30" ry="16" fill="#fff" stroke="#1c0f08" stroke-width="3.2"/><rect x="1062" y="500" width="20" height="10" fill="#fff"/><path d="M1054.4 525.56 Q1053.4 524.9 1054.16 523.97 L1066.34 508.93 Q1067.1 508 1068.13 507.38 L1069.22 506.72 Q1070.25 506.1 1071.43 506.3 L1072.82 506.55 Q1074 506.75 1074.62 507.78 L1074.88 508.22 Q1075.5 509.25 1075.48 510.45 L1075.27 523.7 Q1075.25 524.9 1074.06 525.04 L1071.44 525.36 Q1070.25 525.5 1070.17 524.3 L1069.68 517.3 Q1069.6 516.1 1068.82 517.02 L1059.78 527.68 Q1059 528.6 1058 527.94Z" fill="#1c0f08" stroke="#1c0f08" stroke-width="2.2" /><path d="M1019 542.5 L1030.5 535 L1047.5 537.5 L1046 554 L1037.5 565 L1038.5 548Z" fill="#1c0f08"/></g></g>
<g clip-path="url(#cC3)"><path d="M1000.5 632 L885.26 695.41 Q880 698.3 876.4 703.1 L875.5 704.3 Q872.5 708.3 874.72 712.78 L876.08 715.52 Q878.3 720 882.43 722.82 L922.69 750.25 Q926 752.5 927.64 756.15 L928.86 758.85 Q930.5 762.5 933.75 764.82 L990 805" fill="none" stroke="#0d0a08" stroke-width="2.32" /><path d="M1011.5 632 L888.51 702.52 Q883.3 705.5 881.4 708.75 L881.4 708.75 Q879.5 712 881.5 715.15 L881.5 715.15 Q883.5 718.3 887.69 721.04 L928.65 747.81 Q932 750 933.58 753.68 L934.92 756.82 Q936.5 760.5 939.91 762.59 L1009 805" fill="none" stroke="#0d0a08" stroke-width="2.32" /><path d="M1052 632 L917.59 710.19 Q915 711.7 917.18 713.76 L952.09 746.75 Q955 749.5 954.81 753.5 L954.69 756 Q954.5 760 958.03 761.87 L1013 791" fill="none" stroke="#0d0a08" stroke-width="2.32" /><path d="M999 663.25 L1056 632" fill="none" stroke="#0d0a08" stroke-width="2.32" /><path d="M999 639.5 L1015.25 632" fill="none" stroke="#0d0a08" stroke-width="2.32" /><path d="M1009.07 686.04 Q1006.5 684.5 1009.12 683.04 L1070.13 649.06 Q1072.75 647.6 1075.41 648.98 L1088.24 655.62 Q1090.9 657 1088.32 658.52 L1027.83 694.23 Q1025.25 695.75 1022.68 694.21Z" fill="none" stroke="#0d0a08" stroke-width="2.32" /><path d="M1019.12 758.21 Q1016.5 756.75 1019.09 755.24 L1052.66 735.76 Q1055.25 734.25 1057.87 735.71 L1117.63 769.04 Q1120.25 770.5 1117.66 772.01 L1084.09 791.49 Q1081.5 793 1078.88 791.54Z" fill="none" stroke="#0d0a08" stroke-width="2.32" /><path d="M999 788 L1022 803" fill="none" stroke="#0d0a08" stroke-width="2.17" /><ellipse cx="1137" cy="803" rx="12" ry="8" fill="#fff" stroke="#0d0a08" stroke-width="1.6"/><path d="M1132 803 L1138 795 L1140 803Z" fill="#222"/><ellipse cx="999.2" cy="725.3" rx="17.5" ry="8.9" fill="#fff" stroke="#3a3530" stroke-width="1.4"/><ellipse cx="999.2" cy="724.3" rx="15.8" ry="7.6" fill="none" stroke="#8c8780" stroke-width="0.8"/><ellipse cx="999.5" cy="718.8" rx="13.6" ry="7.2" fill="#fff" stroke="#0d0a08" stroke-width="2.4"/><path d="M994.05 721.78 Q993.3 721.5 993.8 720.88 L999 714.42 Q999.5 713.8 1000.29 713.7 L1001.21 713.6 Q1002 713.5 1002.5 714.12 L1002.7 714.38 Q1003.2 715 1003.23 715.8 L1003.37 720.4 Q1003.4 721.2 1002.61 721.29 L1001.59 721.41 Q1000.8 721.5 1000.74 720.7 L1000.56 718.6 Q1000.5 717.8 999.95 718.38 L996.55 721.92 Q996 722.5 995.25 722.22Z" fill="#1c0f08" stroke="#1c0f08" stroke-width="1.2" /></g>

<g fill="none" stroke="#0e0b09" stroke-width="2.2"><rect x="90.2" y="276.3" width="287.6" height="169.6"/><rect x="90.2" y="454.1" width="287.6" height="169.2"/><rect x="90.2" y="632.9" width="287.6" height="169"/><rect x="475.1" y="276.3" width="142.9" height="169.6"/><rect x="625.3" y="276.3" width="137.1" height="169.6"/><rect x="475.1" y="454.1" width="287.3" height="169.2"/><rect x="475.1" y="632.9" width="287.3" height="169"/><rect x="860.2" y="276.3" width="287.6" height="169.6"/><rect x="860.2" y="454.1" width="287.6" height="169.2"/><rect x="860.2" y="632.9" width="287.6" height="169"/></g>
<circle cx="123.9" cy="308.7" r="22.6" fill="#231108"/><g transform="translate(123.9 308.7)"><path d="M-7.85 -10.4 L4.2 -13.95 L4.2 13.7 L-2.2 13.7 L-2.2 -5.95 L-7.15 -5.25Z" fill="#fff" stroke="#fff" stroke-width="0.6" stroke-linejoin="round"/></g><circle cx="124" cy="485.55" r="22.6" fill="#231108"/><g transform="translate(124 485.55)"><path d="M-6.3 -6.3 C-5.5 -10.3 -2.5 -11.4 0.2 -11.4 C4 -11.4 6.3 -9 6.3 -5.8 C6.3 -2.3 3.5 0.5 -5 8.5" fill="none" stroke="#fff" stroke-width="6.4"/><path d="M-9.4 7 L-3 7 L-3 6.5 L9.6 6.5 L9.6 12.6 L-9.4 12.6Z" fill="#fff"/><path d="M-9.4 8 L-2 1.2 L2 5 L-3 8Z" fill="#fff"/></g><circle cx="124" cy="665.75" r="22.6" fill="#231108"/><g transform="translate(124 665.75)"><path d="M-6.6 -8.3 C-4.6 -11 -2.2 -11.8 0.3 -11.8 C3.8 -11.8 5.7 -9.5 5.7 -6.1 C5.7 -2.3 3 0.3 -0.2 0.3 L-3.6 0.3 M-3.6 0.3 L0.3 0.3 C4 0.3 6.1 2.8 6.1 5.8 C6.1 8.8 3.5 10.3 0 10.3 C-2.8 10.3 -5 9.5 -7.1 7.6" fill="none" stroke="#fff" stroke-width="5.6"/></g><circle cx="507.75" cy="309.1" r="22.6" fill="#231108"/><g transform="translate(507.75 309.1)"><path d="M-7.85 -10.4 L4.2 -13.95 L4.2 13.7 L-2.2 13.7 L-2.2 -5.95 L-7.15 -5.25Z" fill="#fff" stroke="#fff" stroke-width="0.6" stroke-linejoin="round"/></g><circle cx="507.75" cy="485.8" r="22.6" fill="#231108"/><g transform="translate(507.75 485.8)"><path d="M-6.3 -6.3 C-5.5 -10.3 -2.5 -11.4 0.2 -11.4 C4 -11.4 6.3 -9 6.3 -5.8 C6.3 -2.3 3.5 0.5 -5 8.5" fill="none" stroke="#fff" stroke-width="6.4"/><path d="M-9.4 7 L-3 7 L-3 6.5 L9.6 6.5 L9.6 12.6 L-9.4 12.6Z" fill="#fff"/><path d="M-9.4 8 L-2 1.2 L2 5 L-3 8Z" fill="#fff"/></g><circle cx="508" cy="665.75" r="22.6" fill="#231108"/><g transform="translate(508 665.75)"><path d="M-6.6 -8.3 C-4.6 -11 -2.2 -11.8 0.3 -11.8 C3.8 -11.8 5.7 -9.5 5.7 -6.1 C5.7 -2.3 3 0.3 -0.2 0.3 L-3.6 0.3 M-3.6 0.3 L0.3 0.3 C4 0.3 6.1 2.8 6.1 5.8 C6.1 8.8 3.5 10.3 0 10.3 C-2.8 10.3 -5 9.5 -7.1 7.6" fill="none" stroke="#fff" stroke-width="5.6"/></g><circle cx="894.9" cy="308.75" r="22.6" fill="#231108"/><g transform="translate(894.9 308.75)"><path d="M-7.85 -10.4 L4.2 -13.95 L4.2 13.7 L-2.2 13.7 L-2.2 -5.95 L-7.15 -5.25Z" fill="#fff" stroke="#fff" stroke-width="0.6" stroke-linejoin="round"/></g><circle cx="894.9" cy="484.6" r="22.6" fill="#231108"/><g transform="translate(894.9 484.6)"><path d="M-6.3 -6.3 C-5.5 -10.3 -2.5 -11.4 0.2 -11.4 C4 -11.4 6.3 -9 6.3 -5.8 C6.3 -2.3 3.5 0.5 -5 8.5" fill="none" stroke="#fff" stroke-width="6.4"/><path d="M-9.4 7 L-3 7 L-3 6.5 L9.6 6.5 L9.6 12.6 L-9.4 12.6Z" fill="#fff"/><path d="M-9.4 8 L-2 1.2 L2 5 L-3 8Z" fill="#fff"/></g><circle cx="894.9" cy="665.75" r="22.6" fill="#231108"/><g transform="translate(894.9 665.75)"><path d="M-6.6 -8.3 C-4.6 -11 -2.2 -11.8 0.3 -11.8 C3.8 -11.8 5.7 -9.5 5.7 -6.1 C5.7 -2.3 3 0.3 -0.2 0.3 L-3.6 0.3 M-3.6 0.3 L0.3 0.3 C4 0.3 6.1 2.8 6.1 5.8 C6.1 8.8 3.5 10.3 0 10.3 C-2.8 10.3 -5 9.5 -7.1 7.6" fill="none" stroke="#fff" stroke-width="5.6"/></g>
<g clip-path="url(#cC3)"><ellipse cx="914.8" cy="669" rx="4.6" ry="8.5" fill="#1c0f08" stroke="none" stroke-width="1"/><path d="M908.7 675.91 L908.71 677.71 L908.7 680.13 L908.69 683.01 L908.66 686.2 L908.63 689.53 L908.59 692.86 L908.55 696.03 L908.5 698.85 L908.44 701.41 L908.32 703.95 L908.17 706.48 L908.02 708.98 L907.91 711.46 L907.86 713.91 L907.91 716.31 L908.11 718.64 L908.42 720.84 L908.84 722.9 L909.33 724.87 L909.91 726.74 L910.56 728.53 L911.26 730.26 L912.02 731.94 L912.82 733.6 L913.65 735.26 L914.55 736.91 L915.51 738.52 L916.54 740.09 L917.63 741.61 L918.79 743.08 L920.02 744.47 L921.31 745.78 L922.68 747.03 L924.13 748.24 L925.65 749.41 L927.24 750.5 L928.87 751.49 L930.55 752.38 L932.25 753.13 L933.98 753.72 L935.77 754.13 L937.61 754.34 L939.45 754.4 L941.27 754.34 L943.03 754.19 L944.69 754 L946.22 753.79 L947.62 753.59 L948.88 753.37 L950.03 753.1 L951.06 752.79 L952.01 752.44 L952.91 752.06 L953.8 751.66 L954.71 751.24 L955.73 750.8 L956.85 750.3 L958.05 749.76 L959.28 749.18 L960.54 748.57 L961.81 747.95 L963.08 747.3 L964.32 746.64 L965.52 745.97 L966.76 745.26 L968.06 744.47 L969.37 743.64 L970.64 742.82 L971.84 742.03 L972.91 741.31 L973.81 740.71 L974.48 740.26 L973.52 738.74 L972.82 739.15 L971.89 739.71 L970.8 740.38 L969.58 741.12 L968.29 741.9 L966.98 742.66 L965.69 743.39 L964.48 744.03 L963.28 744.61 L962.04 745.19 L960.78 745.75 L959.51 746.3 L958.24 746.82 L957.01 747.32 L955.81 747.78 L954.67 748.2 L953.61 748.61 L952.66 748.99 L951.8 749.33 L950.98 749.62 L950.16 749.88 L949.3 750.09 L948.33 750.27 L947.18 750.41 L945.82 750.56 L944.32 750.72 L942.74 750.85 L941.12 750.94 L939.49 750.95 L937.91 750.86 L936.41 750.64 L935.02 750.28 L933.66 749.74 L932.25 749.04 L930.83 748.21 L929.42 747.27 L928.05 746.23 L926.72 745.13 L925.46 743.98 L924.29 742.82 L923.21 741.62 L922.18 740.35 L921.21 739.02 L920.3 737.62 L919.44 736.17 L918.63 734.68 L917.88 733.16 L917.18 731.6 L916.55 730.02 L915.97 728.43 L915.45 726.84 L914.99 725.22 L914.6 723.57 L914.28 721.85 L914.04 720.05 L913.89 718.16 L913.86 716.19 L913.96 714.09 L914.14 711.86 L914.4 709.52 L914.7 707.06 L915 704.5 L915.28 701.85 L915.5 699.15 L915.65 696.25 L915.79 693.06 L915.93 689.72 L916.06 686.38 L916.19 683.18 L916.3 680.3 L916.41 677.89 L916.5 676.09Z" fill="#1c0f08"/><path d="M956.5 736.5 L965.6 730 L985 732.6 L983.8 750.8 L974.7 758.6 L976 740.4Z" fill="#1c0f08"/></g>

</svg>
</body></html>
